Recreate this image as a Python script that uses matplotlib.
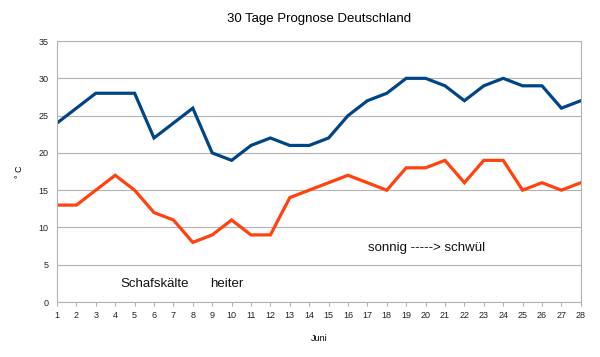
import matplotlib
matplotlib.use('Agg')
import matplotlib.pyplot as plt

plt.rcParams['font.family'] = ['Liberation Sans', 'DejaVu Sans']

# Tage im Juni
days = list(range(1, 29))
# Tageshöchstwerte
t_max = [24, 26, 28, 28, 28, 22, 24, 26, 20, 19, 21, 22, 21, 21,
         22, 25, 27, 28, 30, 30, 29, 27, 29, 30, 29, 29, 26, 27]
# Tiefstwerte
t_min = [13, 13, 15, 17, 15, 12, 11, 8, 9, 11, 9, 9, 14, 15,
         16, 17, 16, 15, 18, 18, 19, 16, 19, 19, 15, 16, 15, 16]

notes = ['Schafskälte', 'heiter', 'sonnig -----> schwül']
note_x = [6.05, 9.75, 20.05]
note_y = [2.4, 2.4, 7.3]

fig = plt.figure(figsize=(6, 3.57), dpi=100)
ax = fig.add_axes([0.095, 0.154, 0.873, 0.731])

ax.plot(days, t_max, color='#004586', lw=2.3, solid_joinstyle='miter')
ax.plot(days, t_min, color='#ff420e', lw=2.3, solid_joinstyle='miter')

for txt, x, y in zip(notes, note_x, note_y):
    ax.text(x, y, txt, ha='center', va='center', fontsize=9.5, color='#111111')

ax.set_xlim(1, 28)
ax.set_ylim(0, 35)
ax.set_xticks(days)
ax.set_yticks(range(0, 36, 5))
ax.tick_params(axis='both', labelsize=6.5, colors='#b3b3b3', labelcolor='#222222', length=3)
ax.tick_params(axis='y', length=0, pad=6)
ax.grid(axis='y', color='#b3b3b3', lw=0.8)
ax.set_axisbelow(True)
for s in ax.spines.values():
    s.set_color('#b3b3b3')

ax.set_title('30 Tage Prognose Deutschland', fontsize=9.5, pad=14)
ax.set_xlabel('Juni', fontsize=6.5, labelpad=10)
ax.set_ylabel('° C', fontsize=6.5)
ax.yaxis.set_label_coords(-0.063, 0.5)

fig.savefig('out.png', dpi=100)
